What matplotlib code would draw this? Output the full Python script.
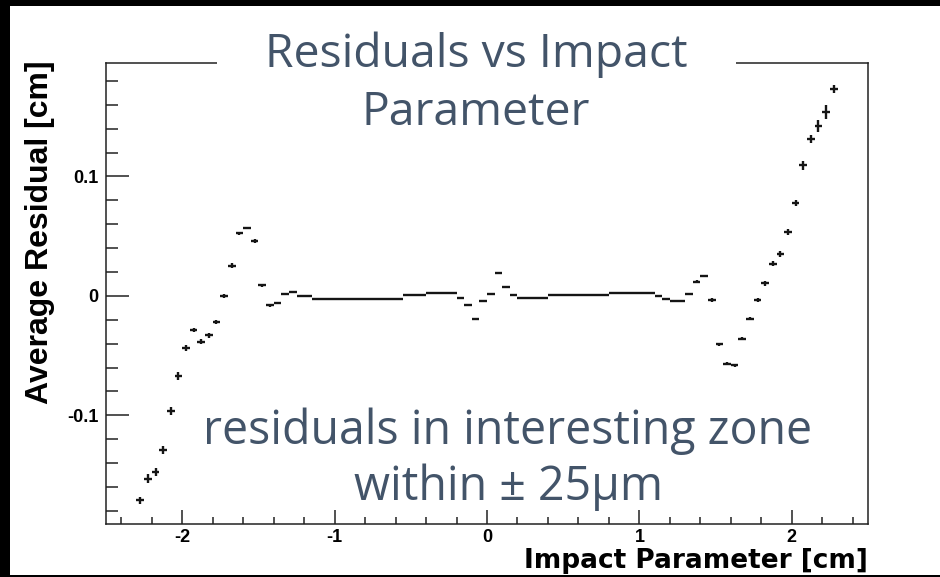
import numpy as np
import matplotlib
matplotlib.use('Agg')
from matplotlib import pyplot as plt
from matplotlib.patches import Rectangle
from matplotlib.ticker import MultipleLocator

plt.rcParams['axes.unicode_minus'] = False

# profile binning: 0.05 cm bins, filled from -2.3 to 2.3
bin_width = 0.05
bin_centers = np.round(np.arange(-2.275, 2.276, bin_width), 3)

# average residual per bin [cm]
residuals = [
    -0.1710, -0.1530, -0.1475, -0.1290, -0.0964, -0.0671, -0.0433, -0.0286,
    -0.0383, -0.0331, -0.0219, -0.0002, 0.0253, 0.0523, 0.0567, 0.0462,
    0.0088, -0.0079, -0.0060, 0.0013, 0.0032, 0.0000, 0.0000,
    -0.0024, -0.0024, -0.0024, -0.0024, -0.0024, -0.0024,
    -0.0024, -0.0024, -0.0024, -0.0024, -0.0024, -0.0024,
    0.0004, 0.0004, 0.0004,
    0.0021, 0.0021, 0.0021, 0.0021,
    -0.0018, -0.0077, -0.0191, -0.0046, 0.0018, 0.0194, 0.0077, 0.0004,
    -0.0018, -0.0018, -0.0018, -0.0018,
    0.0004, 0.0004, 0.0004, 0.0004, 0.0004, 0.0004, 0.0004, 0.0004,
    0.0021, 0.0021, 0.0021, 0.0021, 0.0021, 0.0021,
    -0.0002, -0.0029, -0.0046, -0.0046, 0.0018, 0.0119, 0.0166, -0.0035,
    -0.0406, -0.0567, -0.0582, -0.0358, -0.0191, -0.0032, 0.0104, 0.0269,
    0.0347, 0.0537, 0.0774, 0.1092, 0.1315, 0.1421, 0.1538, 0.1734,
]

# error on the mean per bin [cm]
errors = [
    0.0030, 0.0040, 0.0030, 0.0030, 0.0030, 0.0030, 0.0025, 0.0020,
    0.0020, 0.0020, 0.0015, 0.0015, 0.0020, 0.0010, 0.0010, 0.0015,
    0.0010, 0.0015, 0.0010, 0.0008, 0.0008, 0.0005, 0.0005,
    0.0005, 0.0008, 0.0005, 0.0005, 0.0005, 0.0005,
    0.0005, 0.0005, 0.0005, 0.0005, 0.0005, 0.0005,
    0.0005, 0.0005, 0.0005,
    0.0005, 0.0005, 0.0005, 0.0005,
    0.0005, 0.0010, 0.0008, 0.0008, 0.0008, 0.0010, 0.0008, 0.0005,
    0.0005, 0.0005, 0.0005, 0.0005,
    0.0005, 0.0005, 0.0005, 0.0005, 0.0005, 0.0005, 0.0005, 0.0005,
    0.0005, 0.0005, 0.0005, 0.0005, 0.0005, 0.0005,
    0.0005, 0.0008, 0.0008, 0.0008, 0.0008, 0.0010, 0.0010, 0.0015,
    0.0010, 0.0010, 0.0012, 0.0012, 0.0015, 0.0015, 0.0020, 0.0020,
    0.0025, 0.0025, 0.0025, 0.0035, 0.0035, 0.0050, 0.0060, 0.0035,
]

x_ticks = [-2, -1, 0, 1, 2]
x_tick_labels = ['-2', '-1', '0', '1', '2']
y_ticks = [-0.1, 0, 0.1]
y_tick_labels = ['-0.1', '0', '0.1']

title_lines = ['Residuals vs Impact', 'Parameter']
note_lines = ['residuals in interesting zone', 'within \u00b1 25\u03bcm']
slate = '#435469'

W, H = 940, 577


def fx(px):
    return px / W


def fy(py):
    return 1 - py / H


fig = plt.figure(figsize=(W / 100, H / 100), dpi=100, facecolor='black')
fig.add_artist(Rectangle((fx(10), fy(575)), fx(930), 569 / H,
                         transform=fig.transFigure, facecolor='white',
                         edgecolor='none', zorder=-1))

ax = fig.add_axes([fx(106), fy(524), fx(868 - 106), (524 - 63) / H])
ax.errorbar(bin_centers, residuals, xerr=bin_width / 2, yerr=errors,
            fmt='none', ecolor='#151515', elinewidth=1.7, capsize=0)

ax.set_xlim(-2.5, 2.5)
ax.set_ylim(-0.191, 0.195)
ax.set_xticks(x_ticks, x_tick_labels)
ax.set_yticks(y_ticks, y_tick_labels)
ax.xaxis.set_minor_locator(MultipleLocator(0.2))
ax.yaxis.set_minor_locator(MultipleLocator(0.02))
ax.tick_params(which='both', direction='in', top=False, right=False,
               width=1.1, color='#222222')
ax.xaxis.set_tick_params(which='major', length=10, pad=3.5)
ax.xaxis.set_tick_params(which='minor', length=5)
ax.yaxis.set_tick_params(which='major', length=16.5, pad=5.5)
ax.yaxis.set_tick_params(which='minor', length=8.3)
for lab in ax.get_xticklabels() + ax.get_yticklabels():
    lab.set_family('Liberation Sans')
    lab.set_fontweight('bold')
    lab.set_fontsize(13)
for sp in ax.spines.values():
    sp.set_linewidth(1.1)
    sp.set_color('#222222')

fig.text(fx(40), fy(61), 'Average Residual [cm]', rotation=90,
         ha='center', va='top', family='Liberation Sans',
         fontweight='bold', fontsize=23)
fig.text(fx(868), fy(568), 'Impact Parameter [cm]', ha='right',
         va='baseline', family='DejaVu Sans', fontweight='bold', fontsize=19)

# white box behind the slide title, cutting the frame
fig.add_artist(Rectangle((fx(217), fy(140)), fx(736 - 217), 125 / H,
                         transform=fig.transFigure, facecolor='white',
                         edgecolor='none', zorder=2))
for line, base in zip(title_lines, [67, 125]):
    fig.text(fx(476), fy(base), line, ha='center', va='baseline',
             family='Open Sans', fontsize=33.3, color=slate, zorder=3)
for line, base in zip(note_lines, [444, 500]):
    fig.text(fx(508), fy(base), line, ha='center', va='baseline',
             family='Open Sans', fontsize=33.5, color=slate, zorder=3)

fig.savefig('out.png', dpi=100, facecolor='black')
